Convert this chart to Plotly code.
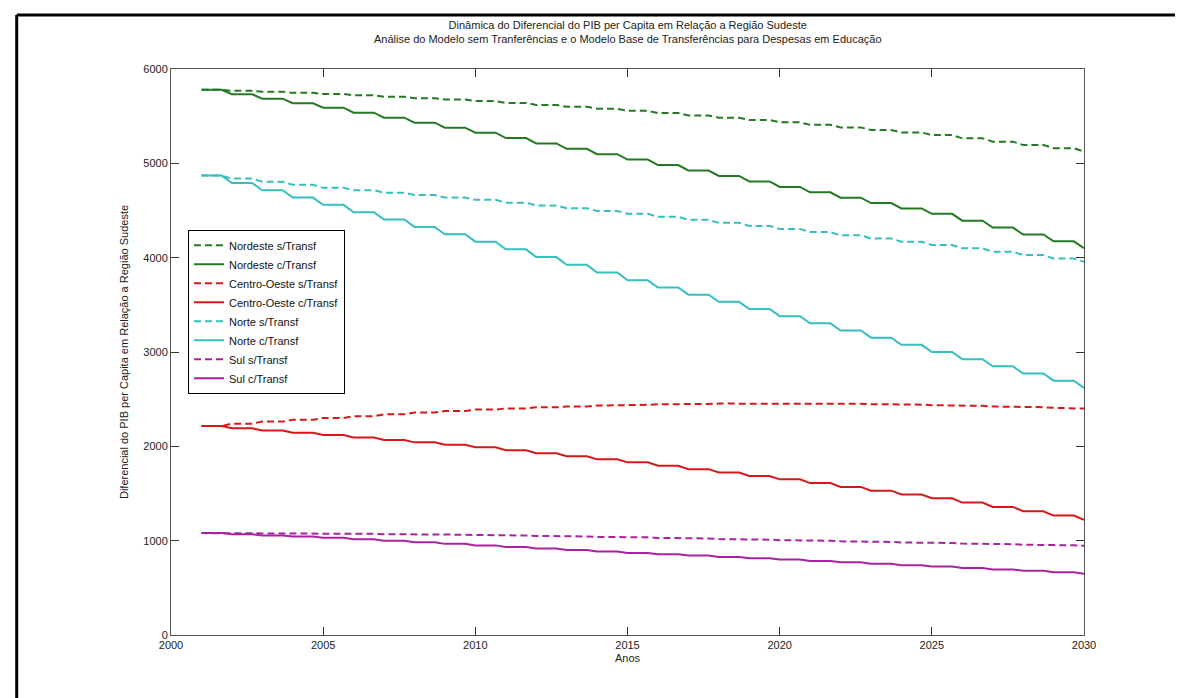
import plotly.graph_objects as go

years = list(range(2001, 2031))

nordeste_s = [5780, 5769, 5758, 5747, 5735, 5721, 5706, 5691, 5676, 5660,
              5640, 5619, 5599, 5578, 5557, 5533, 5508, 5484, 5459, 5435,
              5408, 5381, 5354, 5327, 5300, 5265, 5230, 5195, 5160, 5125]
nordeste_c = [5780, 5732, 5685, 5637, 5590, 5537, 5484, 5431, 5378, 5325,
              5268, 5211, 5154, 5097, 5040, 4982, 4924, 4866, 4808, 4750,
              4693, 4636, 4579, 4522, 4465, 4392, 4319, 4246, 4173, 4100]
centro_s = [2215, 2240, 2262, 2282, 2300, 2320, 2340, 2358, 2375, 2390,
            2402, 2413, 2423, 2432, 2440, 2445, 2450, 2453, 2455, 2455,
            2454, 2451, 2447, 2442, 2436, 2429, 2422, 2415, 2408, 2400]
centro_c = [2215, 2191, 2168, 2144, 2120, 2094, 2068, 2042, 2016, 1990,
            1958, 1926, 1894, 1862, 1830, 1794, 1758, 1722, 1686, 1650,
            1610, 1570, 1530, 1490, 1450, 1404, 1358, 1312, 1266, 1220]
norte_s = [4870, 4838, 4805, 4773, 4740, 4715, 4689, 4664, 4638, 4613,
           4583, 4554, 4524, 4495, 4465, 4433, 4401, 4369, 4337, 4305,
           4271, 4237, 4203, 4169, 4135, 4099, 4063, 4027, 3991, 3955]
norte_c = [4870, 4792, 4715, 4637, 4560, 4482, 4404, 4326, 4248, 4170,
           4088, 4006, 3924, 3842, 3760, 3684, 3608, 3532, 3456, 3380,
           3304, 3228, 3152, 3076, 3000, 2924, 2848, 2772, 2696, 2620]
sul_s = [1080, 1079, 1078, 1077, 1075, 1072, 1069, 1066, 1063, 1060,
         1055, 1050, 1045, 1040, 1035, 1029, 1023, 1017, 1011, 1005,
         999, 993, 987, 981, 975, 969, 963, 957, 951, 945]
sul_c = [1080, 1068, 1055, 1043, 1030, 1014, 998, 982, 966, 950,
         934, 918, 902, 886, 870, 856, 842, 828, 814, 800,
         785, 770, 755, 740, 725, 710, 695, 680, 665, 650]

series = [
    ("Nordeste s/Transf", nordeste_s, "#237a23", "7px,4px"),
    ("Nordeste c/Transf", nordeste_c, "#237a23", "solid"),
    ("Centro-Oeste s/Transf", centro_s, "#d81818", "7px,4px"),
    ("Centro-Oeste c/Transf", centro_c, "#d81818", "solid"),
    ("Norte s/Transf", norte_s, "#35bfc0", "7px,4px"),
    ("Norte c/Transf", norte_c, "#35bfc0", "solid"),
    ("Sul s/Transf", sul_s, "#a8239f", "7px,4px"),
    ("Sul c/Transf", sul_c, "#a8239f", "solid"),
]

HOLD = 2.0 / 3.0  # fraction of each year the value is held before changing


def staircase(xs, ys):
    px, py = [], []
    for i, (x, y) in enumerate(zip(xs, ys)):
        px.append(x)
        py.append(y)
        if i < len(xs) - 1:
            px.append(x + HOLD)
            py.append(y)
    return px, py


FONT = "Liberation Sans Narrow, Arial Narrow, Liberation Sans, Arial, sans-serif"

fig = go.Figure()
for name, vals, color, dash in series:
    sx, sy = staircase(years, vals)
    fig.add_trace(go.Scatter(x=sx, y=sy, mode="lines", name=name,
                             line=dict(color=color, width=2, dash=dash)))

fig.update_layout(
    width=1183, height=698,
    margin=dict(l=163, r=107, t=61, b=71),
    paper_bgcolor="white", plot_bgcolor="white",
    font=dict(family=FONT, size=11, color="#222222"),
    showlegend=True,
    legend=dict(x=0.0186, y=0.716, xanchor="left", yanchor="top",
                bgcolor="white", bordercolor="black", borderwidth=1,
                font=dict(family=FONT, size=11, color="#111111"),
                tracegroupgap=0, itemwidth=30),
    annotations=[dict(
        text="Dinâmica do Diferencial do PIB per Capita em Relação a Região Sudeste<br>"
             "Análise do Modelo sem Tranferências e o Modelo Base de Transferências para Despesas em Educação",
        xref="paper", yref="paper", x=0.5, y=1.0, yshift=22,
        xanchor="center", yanchor="bottom", showarrow=False,
        font=dict(family=FONT, size=11, color="#222222"))],
    shapes=[
        dict(type="line", xref="paper", yref="paper", x0=-0.169, x1=1.12,
             y0=1.0954, y1=1.0954, line=dict(color="black", width=3)),
        dict(type="line", xref="paper", yref="paper", x0=-0.169, x1=-0.169,
             y0=1.0954, y1=-0.13, line=dict(color="black", width=3)),
    ],
)

fig.update_xaxes(range=[2000, 2030], tickmode="array",
                 tickvals=[2000, 2005, 2010, 2015, 2020, 2025, 2030],
                 ticks="inside", ticklen=8, tickcolor="#333333",
                 showline=True, linecolor="#555555", linewidth=1, mirror="ticks",
                 showgrid=False, zeroline=False,
                 title=dict(text="Anos", standoff=4, font=dict(size=11)),
                 tickfont=dict(size=11))
fig.update_yaxes(range=[0, 6000], tickmode="array",
                 tickvals=[0, 1000, 2000, 3000, 4000, 5000, 6000],
                 ticks="inside", ticklen=8, tickcolor="#333333",
                 showline=True, linecolor="#555555", linewidth=1, mirror="ticks",
                 showgrid=False, zeroline=False,
                 title=dict(text="Diferencial do PIB per Capita em Relação a Região Sudeste",
                            standoff=12, font=dict(size=11)),
                 tickfont=dict(size=11))

fig.write_html("out.html")
